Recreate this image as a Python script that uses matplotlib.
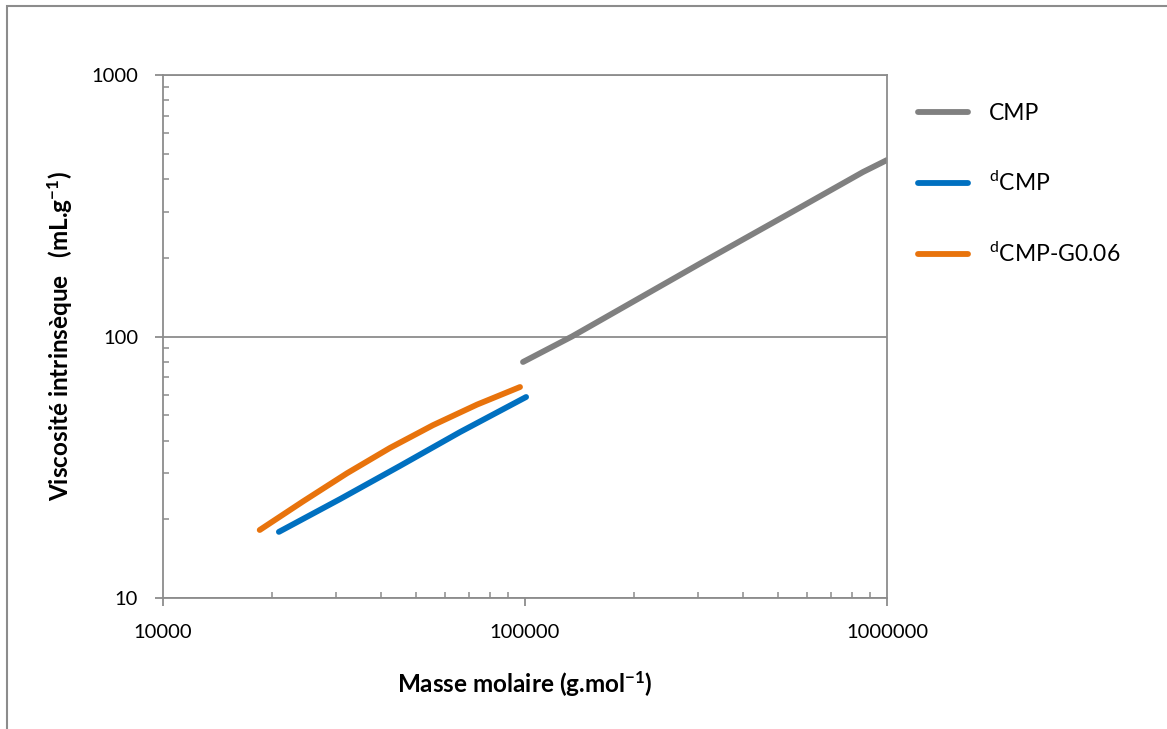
import matplotlib
matplotlib.use("Agg")
import matplotlib.pyplot as plt
from matplotlib.patches import Rectangle
from matplotlib.ticker import LogLocator, FixedLocator, NullFormatter

plt.rcParams['font.family'] = ['Lato', 'DejaVu Sans']
plt.rcParams['mathtext.fontset'] = 'custom'
plt.rcParams['mathtext.rm'] = 'Lato'
plt.rcParams['mathtext.bf'] = 'Lato:bold'
plt.rcParams['mathtext.it'] = 'Lato'

# Data
cmp_M = [98740, 134800, 304300, 560000, 858400, 1000000]
cmp_eta = [79.9, 100.0, 190.0, 305.0, 425.6, 473.0]

dcmp_M = [20900, 30850, 45150, 66140, 100700]
dcmp_eta = [17.9, 23.9, 32.0, 43.1, 58.7]

dcmpg_M = [18500, 24360, 32240, 42380, 55690, 73700, 96880]
dcmpg_eta = [18.2, 23.4, 30.0, 37.5, 45.8, 54.9, 64.1]

x_ticks = [10000, 100000, 1000000]
x_labels = ['10000', '100000', '1000000']
y_ticks = [10, 100, 1000]
y_labels = ['10', '100', '1000']

series_labels = ['CMP', '$^{\\mathrm{d}}$CMP', '$^{\\mathrm{d}}$CMP-G0.06']
colors = ['#808080', '#0070C0', '#E8730C']

W, H = 1167, 729
fig = plt.figure(figsize=(W / 100, H / 100), dpi=100)
ax = fig.add_axes([163 / W, 1 - 598 / H, (887 - 163) / W, (598 - 75) / H])

lw = 4.2
ax.plot(cmp_M, cmp_eta, color=colors[0], lw=lw, solid_capstyle='round', label=series_labels[0])
ax.plot(dcmp_M, dcmp_eta, color=colors[1], lw=lw, solid_capstyle='round', label=series_labels[1])
ax.plot(dcmpg_M, dcmpg_eta, color=colors[2], lw=lw, solid_capstyle='round', label=series_labels[2])

ax.set_xscale('log')
ax.set_yscale('log')
ax.set_xlim(10000, 1000000)
ax.set_ylim(10, 1000)

ax.xaxis.set_major_locator(FixedLocator(x_ticks))
ax.set_xticklabels(x_labels)
ax.yaxis.set_major_locator(FixedLocator(y_ticks))
ax.set_yticklabels(y_labels)
ax.xaxis.set_minor_locator(LogLocator(base=10, subs=range(2, 10)))
ax.yaxis.set_minor_locator(LogLocator(base=10, subs=range(2, 10)))
ax.xaxis.set_minor_formatter(NullFormatter())
ax.yaxis.set_minor_formatter(NullFormatter())

gc = '#8c8c8c'
ax.tick_params(which='major', direction='out', length=6, width=1.3, color=gc,
               labelsize=14.5)
ax.tick_params(axis='y', which='major', pad=12)
ax.tick_params(axis='x', which='major', pad=13)
ax.tick_params(which='minor', direction='in', length=4, width=1.1, color=gc)
for s in ax.spines.values():
    s.set_color(gc)
    s.set_linewidth(1.3)
ax.yaxis.grid(True, which='major', color=gc, lw=1.3)
ax.set_axisbelow(True)

ax.set_xlabel('Masse molaire (g.mol$^{\\mathbf{-1}}$)', fontsize=17.5, fontweight='bold', labelpad=20)
ax.set_ylabel('Viscosité intrinsèque   (mL.g$^{\\mathbf{-1}}$)', fontsize=17.5, fontweight='bold', labelpad=12)

fig.legend(loc='upper left', bbox_to_anchor=(897 / W, 1 - 82 / H), frameon=False,
           fontsize=16.5, handlelength=2.2, labelspacing=2.05, handletextpad=0.9)

fig.patches.append(Rectangle((7 / W, -0.01), 1.02, 1 - 6 / H + 0.01, transform=fig.transFigure,
                             fill=False, edgecolor='#8c8c8c', lw=1.5))

fig.savefig('out.png', dpi=100, facecolor='white')
